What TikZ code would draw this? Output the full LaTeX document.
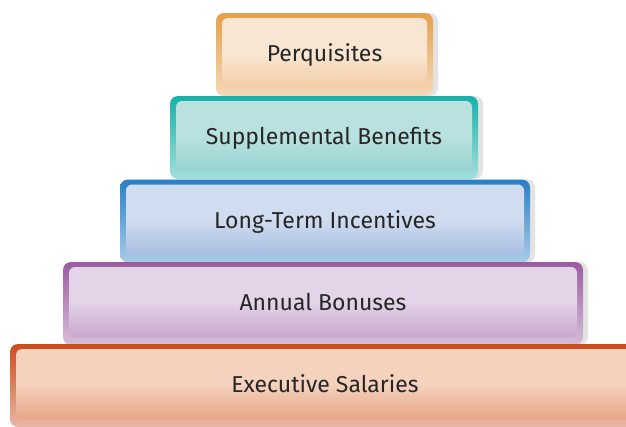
\documentclass[tikz,border=0pt]{standalone}
\usepackage{fontspec}
\setmainfont{Fira Sans}
\usetikzlibrary{shadows,calc}

\definecolor{perqline}{HTML}{E6A04C}
\definecolor{perqfill}{HTML}{F9E6D2}
\definecolor{perqdark}{HTML}{F2CCA4}
\definecolor{suppline}{HTML}{17B0A8}
\definecolor{suppfill}{HTML}{B9E1DF}
\definecolor{suppdark}{HTML}{98D4D0}
\definecolor{longline}{HTML}{2A7FC4}
\definecolor{longfill}{HTML}{D0DCEF}
\definecolor{longdark}{HTML}{A8BFE2}
\definecolor{annline}{HTML}{9A5C9F}
\definecolor{annfill}{HTML}{E3D4E7}
\definecolor{anndark}{HTML}{C8A7CE}
\definecolor{execline}{HTML}{CC4B1C}
\definecolor{execfill}{HTML}{F4D2BD}
\definecolor{execdark}{HTML}{E8A586}

\begin{document}
\begin{tikzpicture}[
    x=1pt, y=-1pt,
    tier/.style={rounded corners=8pt, minimum height=83pt, inner sep=0pt,
                 top color=#1, bottom color=#1!40!white,
                 drop shadow={shadow xshift=5pt, shadow yshift=0pt,
                              fill=black!11, opacity=1}},
    tiertext/.style 2 args={rounded corners=6pt, minimum height=70pt, inner sep=0pt,
                 text depth=0pt,
                 top color=#1, bottom color=#2, middle color=#1,
                 font=\fontsize{23}{27}\selectfont, text=black!85}
]
    \useasboundingbox (0,0) rectangle (626,426);

    % Perquisites
    \node[tier=perqline, minimum width=217pt] (perqbox) at (324.5,54.5) {};
    \node[tiertext={perqfill}{perqdark}, minimum width=205pt]
        (perq) at ($(perqbox.center)+(0,-1.5)$) {Perquisites};

    % Supplemental benefits
    \node[tier=suppline, minimum width=308pt] (suppbox) at (324,137.5) {};
    \node[tiertext={suppfill}{suppdark}, minimum width=296pt]
        (supp) at ($(suppbox.center)+(0,-1.5)$) {Supplemental Benefits};

    % Long-term incentives
    \node[tier=longline, minimum width=410pt] (longbox) at (325,221) {};
    \node[tiertext={longfill}{longdark}, minimum width=398pt]
        (long) at ($(longbox.center)+(0,-1.5)$) {Long-Term Incentives};

    % Annual bonuses
    \node[tier=annline, minimum width=520pt] (annbox) at (323,303.5) {};
    \node[tiertext={annfill}{anndark}, minimum width=508pt]
        (ann) at ($(annbox.center)+(0,-1.5)$) {Annual Bonuses};

    % Executive salaries
    \node[tier=execline, minimum width=630pt] (execbox) at (325,385.5) {};
    \node[tiertext={execfill}{execdark}, minimum width=618pt]
        (exec) at ($(execbox.center)+(0,-1.5)$) {Executive Salaries};
\end{tikzpicture}
\end{document}
